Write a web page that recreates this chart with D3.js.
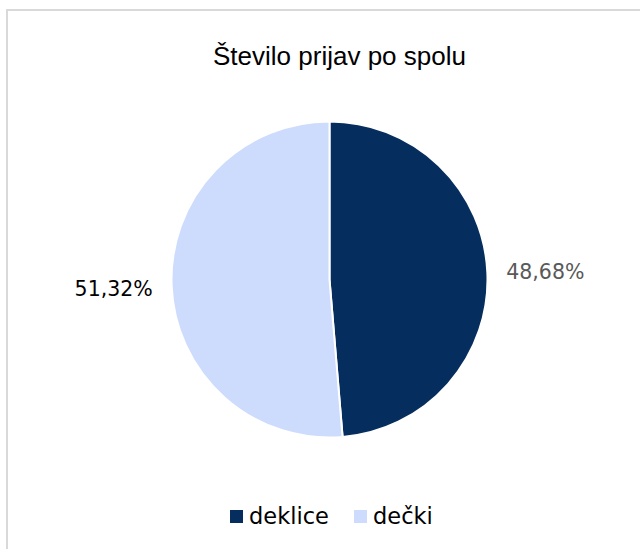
<!DOCTYPE html>
<html>
<head>
<meta charset="utf-8">
<script src="https://cdn.jsdelivr.net/npm/d3@7"></script>
<style>
body { margin: 0; background: #fff; }
svg { display: block; }
.title { font-family: "Liberation Sans", Arial, sans-serif; font-size: 26px; fill: #000; }
.lbl { font-family: "DejaVu Sans", sans-serif; font-size: 20.5px; }
.legend text { font-family: "DejaVu Sans", sans-serif; font-size: 22.5px; fill: #000; }
</style>
</head>
<body>
<script>
var categories = ["deklice", "dečki"];
var shares = [48.68, 51.32];
var colors = ["#052e5f", "#cddcfc"];
var labelColors = ["#595959", "#000000"];

var W = 640, H = 549;
var cx = 329.5, cy = 279.5, R = 158;

var svg = d3.select("body").append("svg")
	.attr("width", W)
	.attr("height", H);

// chart frame (runs off the right and bottom edge)
svg.append("rect")
	.attr("x", 7).attr("y", 10)
	.attr("width", W + 20).attr("height", H + 20)
	.attr("fill", "#fff")
	.attr("stroke", "#d9d9d9")
	.attr("stroke-width", 2);

svg.append("text")
	.attr("class", "title")
	.attr("x", 339.5).attr("y", 65)
	.attr("text-anchor", "middle")
	.text("Število prijav po spolu");

var data = categories.map(function(c, i) { return {name: c, value: shares[i], i: i}; });

var pie = d3.pie().sort(null).value(function(d) { return d.value; });
var arc = d3.arc().innerRadius(0).outerRadius(R);

var g = svg.append("g").attr("transform", "translate(" + cx + "," + cy + ")");

var arcs = pie(data);

g.selectAll("path.slice")
	.data(arcs)
	.enter().append("path")
	.attr("class", "slice")
	.attr("d", arc)
	.attr("fill", function(d) { return colors[d.data.i]; })
	.attr("stroke", "#fff")
	.attr("stroke-width", 2)
	.attr("stroke-linejoin", "round");

// data labels outside the pie
var labelArc = d3.arc().innerRadius(R + 58).outerRadius(R + 58);
g.selectAll("text.lbl")
	.data(arcs)
	.enter().append("text")
	.attr("class", "lbl")
	.attr("transform", function(d) {
		var p = labelArc.centroid(d);
		return "translate(" + p[0] + "," + (p[1] + 8) + ")";
	})
	.attr("text-anchor", "middle")
	.attr("fill", function(d) { return labelColors[d.data.i]; })
	.text(function(d) { return d.data.value.toFixed(2).replace(".", ",") + "%"; });

// legend
var legendX = [230, 354];
var legend = svg.append("g").attr("class", "legend")
	.selectAll("g")
	.data(data)
	.enter().append("g")
	.attr("transform", function(d) { return "translate(" + legendX[d.i] + ",510)"; });

legend.append("rect")
	.attr("width", 13).attr("height", 13)
	.attr("fill", function(d) { return colors[d.i]; });

legend.append("text")
	.attr("x", 19).attr("y", 14)
	.text(function(d) { return d.name; });
</script>
</body>
</html>
